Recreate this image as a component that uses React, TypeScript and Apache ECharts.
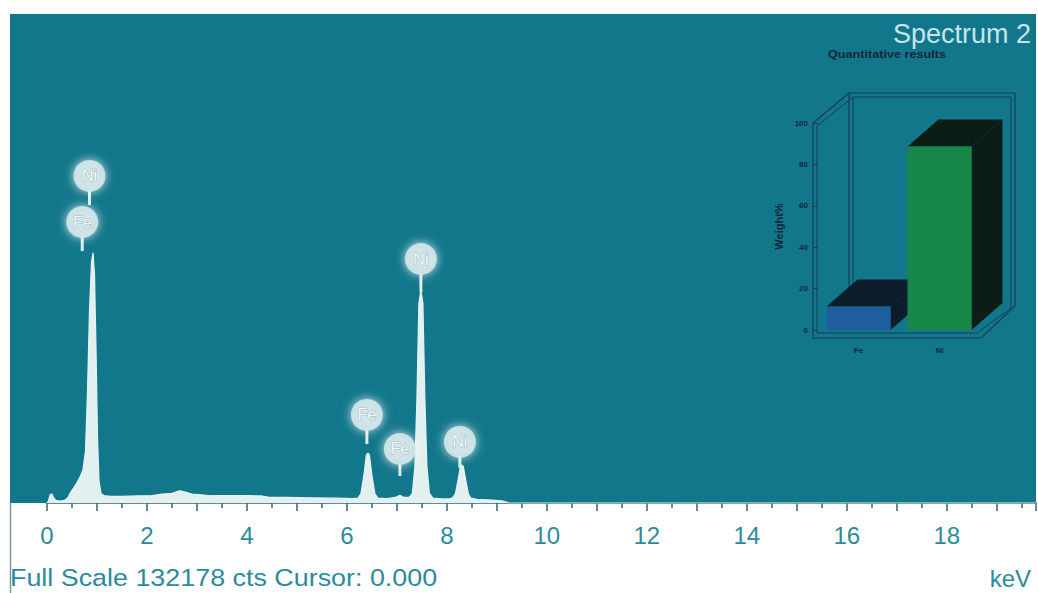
import React, { useEffect, useRef } from "react";
import * as echarts from "echarts";

// ---- Spectrum (energy in keV, counts) ----
const energyKeV = [
  0.0, 0.03, 0.06, 0.1, 0.13, 0.17, 0.25, 0.35, 0.42, 0.47, 0.53, 0.6, 0.66, 0.72, 0.77,
  0.81, 0.85, 0.89, 0.92, 0.95, 0.98, 1.01, 1.04, 1.08, 1.15, 1.3, 1.5, 1.8, 2.1, 2.3,
  2.5, 2.65, 2.75, 2.9, 3.2, 3.6, 4.0, 4.3, 4.45, 4.8, 5.3, 5.8, 6.1, 6.22, 6.28,
  6.34, 6.39, 6.42, 6.45, 6.5, 6.56, 6.62, 6.8, 6.97, 7.06, 7.14, 7.25, 7.31, 7.36,
  7.4, 7.44, 7.48, 7.52, 7.56, 7.6, 7.65, 7.72, 7.9, 8.05, 8.12, 8.17, 8.22, 8.27,
  8.3, 8.33, 8.38, 8.43, 8.48, 8.6, 8.9, 9.1, 9.2, 9.25, 19.78,
];
const counts = [
  0, 600, 2200, 2400, 1500, 700, 500, 700, 1500, 2800, 4000, 5500, 7000, 9000, 14000,
  30000, 52000, 65000, 67600, 62000, 42000, 18000, 6000, 2600, 1900, 1800, 1800, 1900, 2000, 2400,
  2600, 3300, 3000, 2400, 2100, 2000, 2000, 1900, 1500, 1500, 1400, 1300, 1200, 1300, 2500,
  7500, 13000, 13500, 13000, 7500, 2500, 1300, 1200, 1500, 2100, 1500, 1600, 2600, 10000,
  28000, 54000, 57600, 54000, 28000, 10000, 2600, 1300, 1100, 1100, 1500, 2500, 6000, 9800,
  10300, 9800, 6000, 2500, 1300, 1000, 800, 600, 200, 0, 0,
];

// ---- Peak identification labels ----
const peakLabels = ["Ni", "Fe", "Fe", "Fe", "Ni", "Ni"];
const peakLabelEnergy = [0.85, 0.705, 6.4, 7.06, 7.48, 8.26];
const peakLabelCounts = [88400, 75950, 23800, 14600, 65950, 16500];
const peakLeaderEnd = [80550, 68100, 15950, 7300, 57000, 9460];

// ---- Axis ticks ----
const xTickLabels = [0, 2, 4, 6, 8, 10, 12, 14, 16, 18];
const fullScaleCounts = 132178;

// ---- Quantitative results inset ----
const quantElements = ["Fe", "Ni"];
const weightPercent = [11.3, 88.7];
const frontColors = ["#1e5e9e", "#188848"];
const shadeColors = ["#0c1c2a", "#0a1e17"];

const FONT = 'Arial, "Liberation Sans", Helvetica, sans-serif';
const TEAL_TEXT = "#2b8b9c";
const FRAME = "#173c58";

export default function App() {
  const ref = useRef<HTMLDivElement>(null);

  useEffect(() => {
    if (!ref.current) return;
    const chart = echarts.init(ref.current, undefined, { renderer: "svg" });

    const option: any = {
      animation: false,
      backgroundColor: "#ffffff",
      grid: [
        { left: 47, right: 2, top: 14, bottom: 90 },
        { left: 818, width: 162, top: 123, height: 207 },
      ],
      xAxis: [
        {
          type: "value",
          gridIndex: 0,
          min: 0,
          max: 19.786,
          interval: 1,
          axisLine: { show: true, lineStyle: { color: "#2f6674", width: 1.5 } },
          axisTick: { show: true, length: 8, lineStyle: { color: "#2f6674", width: 1.5 } },
          minorTick: { show: true, splitNumber: 2, length: 5, lineStyle: { color: "#2f6674", width: 1.5 } },
          splitLine: { show: false },
          minorSplitLine: { show: false },
          axisLabel: {
            margin: 20,
            fontSize: 24,
            color: TEAL_TEXT,
            fontFamily: FONT,
            showMaxLabel: false,
            formatter: (v: number) => {
              const r = Math.round(v * 1000) / 1000;
              return xTickLabels.indexOf(r) >= 0 ? String(r) : "";
            },
          },
        },
        {
          type: "category",
          gridIndex: 1,
          data: quantElements,
          axisLine: { show: false },
          axisTick: { show: false },
          axisLabel: { fontSize: 8, fontWeight: "bold", color: "#14263a", margin: 16, fontFamily: FONT },
        },
      ],
      yAxis: [
        { type: "value", gridIndex: 0, min: 0, max: fullScaleCounts, show: false },
        {
          type: "value",
          gridIndex: 1,
          min: 0,
          max: 100,
          interval: 20,
          name: "Weight%",
          nameLocation: "middle",
          nameRotate: 90,
          nameGap: 34,
          nameTextStyle: { fontSize: 11, fontWeight: "bold", color: "#14263a", fontFamily: FONT },
          axisLine: { show: false },
          axisTick: { show: true, length: 4, lineStyle: { color: FRAME } },
          splitLine: { show: false },
          axisLabel: { fontSize: 8, fontWeight: "bold", color: "#14263a", margin: 10, fontFamily: FONT },
        },
      ],
      series: [
        {
          type: "line",
          xAxisIndex: 0,
          yAxisIndex: 0,
          data: energyKeV.map((e, i) => [e, counts[i]]),
          symbol: "none",
          showSymbol: false,
          lineStyle: { color: "#e6f3f3", width: 1.2 },
          areaStyle: { color: "#e3f0f0", opacity: 1 },
          z: 3,
        },
        {
          type: "custom",
          xAxisIndex: 0,
          yAxisIndex: 0,
          encode: { x: 0, y: 1 },
          z: 5,
          data: peakLabelEnergy.map((e, i) => [e, peakLabelCounts[i], peakLeaderEnd[i], i]),
          renderItem: (_params: any, api: any) => {
            const c = api.coord([api.value(0), api.value(1)]);
            const e = api.coord([api.value(0), api.value(2)]);
            const name = peakLabels[api.value(3)];
            const r = 16;
            return {
              type: "group",
              children: [
                {
                  type: "line",
                  shape: { x1: c[0], y1: c[1] + r - 2, x2: c[0], y2: e[1] },
                  style: { stroke: "#dcecee", lineWidth: 3 },
                },
                {
                  type: "circle",
                  shape: { cx: c[0], cy: c[1], r },
                  style: {
                    fill: "rgba(210,229,233,0.9)",
                    shadowBlur: 10,
                    shadowColor: "rgba(255,255,255,0.9)",
                  },
                },
                {
                  type: "text",
                  style: {
                    text: name,
                    x: c[0],
                    y: c[1],
                    align: "center",
                    verticalAlign: "middle",
                    fontSize: 16,
                    fontFamily: FONT,
                    fill: "#eef7f8",
                    stroke: "#a3bfc5",
                    lineWidth: 1,
                  },
                },
              ],
            };
          },
        },
        {
          type: "custom",
          xAxisIndex: 1,
          yAxisIndex: 1,
          encode: { x: 0, y: 1 },
          z: 4,
          data: quantElements.map((_n, i) => [i, weightPercent[i]]),
          renderItem: (params: any, api: any) => {
            const idx = api.value(0);
            const val = api.value(1);
            const top = api.coord([idx, val]);
            const base = api.coord([idx, 0]);
            const w = api.size([1, 0])[0] * 0.79;
            const x0 = top[0] - w / 2;
            const x1 = top[0] + w / 2;
            const dx = 31;
            const dy = -27;
            const i = params.dataIndex;
            return {
              type: "group",
              children: [
                {
                  type: "polygon",
                  shape: { points: [[x0, top[1]], [x0 + dx, top[1] + dy], [x1 + dx, top[1] + dy], [x1, top[1]]] },
                  style: { fill: shadeColors[i] },
                },
                {
                  type: "polygon",
                  shape: { points: [[x1, top[1]], [x1 + dx, top[1] + dy], [x1 + dx, base[1] + dy], [x1, base[1]]] },
                  style: { fill: shadeColors[i] },
                },
                {
                  type: "rect",
                  shape: { x: x0, y: top[1], width: w, height: base[1] - top[1] },
                  style: { fill: frontColors[i] },
                },
              ],
            };
          },
        },
      ],
      graphic: [
        { type: "rect", z: -100, shape: { x: 10, y: 14, width: 1026, height: 489 }, style: { fill: "#13778b" } },
        { type: "line", z: 10, shape: { x1: 10.5, y1: 503, x2: 10.5, y2: 593 }, style: { stroke: "#7d9aa2", lineWidth: 1.5 } },
        // inset frame (outer)
        { type: "polyline", z: 1, shape: { points: [[849, 307], [849, 93], [1015, 93], [1015, 306]] }, style: { stroke: FRAME, lineWidth: 1.2, fill: null } },
        { type: "polyline", z: 1, shape: { points: [[853, 307], [853, 97], [1011, 97], [1011, 308]] }, style: { stroke: FRAME, lineWidth: 1, fill: null } },
        { type: "polyline", z: 1, shape: { points: [[849, 93], [813, 123], [813, 338], [981, 338], [1015, 306]] }, style: { stroke: FRAME, lineWidth: 1.2, fill: null } },
        { type: "polyline", z: 1, shape: { points: [[853, 97], [817, 126], [817, 333], [977, 333], [1011, 308]] }, style: { stroke: FRAME, lineWidth: 1, fill: null } },
        // titles & captions
        {
          type: "text",
          z: 50,
          x: 1031,
          y: 34,
          style: { text: "Spectrum 2", fontSize: 27, fontFamily: FONT, fill: "#c4e5eb", align: "right", verticalAlign: "middle" },
        },
        {
          type: "text",
          z: 51,
          x: 887,
          y: 54,
          scaleX: 1.15,
          style: { text: "Quantitative results", fontSize: 11, fontWeight: "bold", fontFamily: FONT, fill: "#13263a", align: "center", verticalAlign: "middle" },
        },
        {
          type: "text",
          z: 50,
          x: 10,
          y: 578,
          scaleX: 1.12,
          style: { text: "Full Scale 132178 cts Cursor: 0.000", fontSize: 24, fontFamily: FONT, fill: TEAL_TEXT, align: "left", verticalAlign: "middle" },
        },
        {
          type: "text",
          z: 50,
          x: 1031,
          y: 578,
          style: { text: "keV", fontSize: 24, fontFamily: FONT, fill: TEAL_TEXT, align: "right", verticalAlign: "middle" },
        },
      ],
    };

    chart.setOption(option);
    return () => chart.dispose();
  }, []);

  return (
    <div
      ref={ref}
      style={{ position: "fixed", left: 0, top: 0, width: 1038, height: 593, background: "#ffffff" }}
    />
  );
}
